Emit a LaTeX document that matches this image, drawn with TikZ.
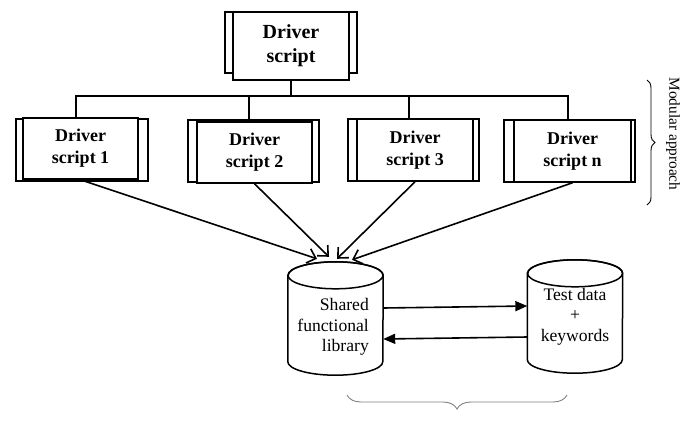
\documentclass[tikz,border=0pt]{standalone}
\usepackage{fontspec}
\setmainfont{Liberation Serif}
\usetikzlibrary{arrows.meta,decorations.pathreplacing}
\begin{document}
\begin{tikzpicture}[x=1pt,y=-1pt,
  back/.style={draw,line width=1.4pt,fill=white,inner sep=0pt},
  front/.style={draw,line width=1.5pt,fill=white,inner sep=0pt,align=center,font=\fontsize{18}{22}\selectfont\bfseries},
  conn/.style={line width=1.4pt},
  feed/.style={line width=1.6pt,-{Straight Barb[length=8pt,width=15pt]}},
  xfer/.style={line width=1.6pt,-{Triangle[length=12pt,width=10pt]}},
  cyl/.style={line width=1.5pt},
  body/.style={font=\fontsize{17.6}{20.5}\selectfont,inner sep=0pt}
]
\useasboundingbox (0,0) rectangle (685,426);
\coordinate (bus) at (0,96);

% top driver script
\node[back,minimum width=132pt,minimum height=61pt] (d0b) at (291,42.5) {};
\node[front,minimum width=116pt,minimum height=68pt,font=\fontsize{20}{24}\selectfont\bfseries] (d0) at (291,46) {Driver\\script};

% driver scripts 1..n
\node[back,minimum width=132pt,minimum height=62pt] (d1b) at (82,150) {};
\node[front,minimum width=115pt,minimum height=61pt] (d1) at (80.5,148.5) {Driver\\script 1};
\node[back,minimum width=131pt,minimum height=62pt] (d2b) at (253.5,151) {};
\node[front,minimum width=115pt,minimum height=61pt] (d2) at (254.5,152.5) {Driver\\script 2};
\node[back,minimum width=131pt,minimum height=62pt] (d3b) at (413.5,150) {};
\node[front,minimum width=116pt,minimum height=62pt] (d3) at (415,150) {Driver\\script 3};
\node[back,minimum width=131pt,minimum height=62pt] (dnb) at (569.5,151) {};
\node[front,minimum width=117pt,minimum height=62pt] (dn) at (572.5,151) {Driver\\script n};

% tree connectors
\draw[conn] (d0.south) -- (d0.south |- bus);
\draw[conn] ([xshift=-4.5pt]d1.north) -- ([xshift=-4.5pt]d1.north |- bus) -- ([xshift=-4.5pt]dn.north |- bus) -- ([xshift=-4.5pt]dn.north);
\draw[conn] ([xshift=-5.5pt]d2.north) -- ([xshift=-5.5pt]d2.north |- bus);
\draw[conn] ([xshift=-6pt]d3.north) -- ([xshift=-6pt]d3.north |- bus);

% cylinders
\node[minimum width=95pt,minimum height=113pt,inner sep=0pt] (lib) at (335.5,318.5) {};
\node[minimum width=95pt,minimum height=113pt,inner sep=0pt] (data) at (575,316.5) {};
\foreach \c in {lib,data} {
  \draw[cyl,fill=white] ([yshift=-13.5pt]\c.north west) -- ([yshift=13.5pt]\c.south west)
    arc[start angle=180,end angle=360,x radius=47.5pt,y radius=13.5pt]
    -- ([yshift=-13.5pt]\c.north east)
    arc[start angle=0,end angle=180,x radius=47.5pt,y radius=13.5pt] -- cycle;
  \draw[cyl] ([yshift=-13.5pt]\c.north) ellipse[x radius=47.5pt,y radius=13.5pt];
}
\node[body,anchor=east,align=right] (libtext) at (369,327) {Shared\\functional\\library};
\node[body,align=center] (datatext) at (data) {Test data\\+\\keywords};

% arrows into library
\draw[feed] (d1.south) -- ([xshift=-18.5pt,yshift=3pt]lib.north);
\draw[feed] (d2.south) -- ([xshift=-6.5pt,yshift=5pt]lib.north);
\draw[feed] (d3.south) -- ([xshift=1.5pt,yshift=3pt]lib.north);
\draw[feed] (dn.south) -- ([xshift=16.5pt,yshift=2pt]lib.north);

% exchange arrows
\draw[xfer] ([yshift=10.5pt]lib.east) -- ([yshift=10.5pt]data.west);
\draw[xfer] ([yshift=-20.5pt]data.west) -- ([yshift=-20.5pt]lib.east);

% braces
\draw[decorate,decoration={brace,amplitude=8pt},line width=0.9pt] (647,80) -- (647,205);
\node[font=\fontsize{15.3}{18}\selectfont,rotate=-90,inner sep=0pt] (mod) at (673,134) {Modular approach};
\draw[decorate,decoration={brace,amplitude=14pt},line width=0.9pt,gray] (567,395) -- (347,395);
\end{tikzpicture}
\end{document}
